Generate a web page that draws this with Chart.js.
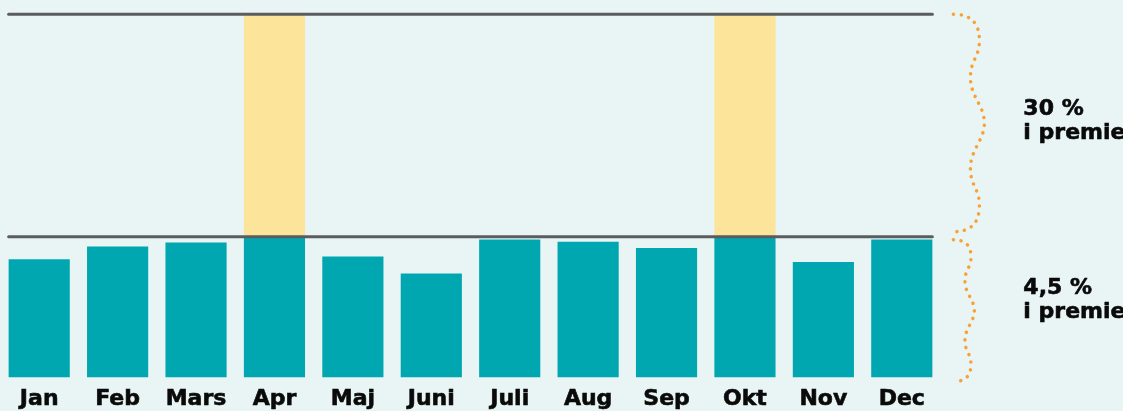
<!DOCTYPE html>
<html>
<head>
<meta charset="utf-8">
<script src="https://cdn.jsdelivr.net/npm/chart.js@4/dist/chart.umd.min.js"></script>
<style>
  html, body { margin: 0; padding: 0; background: #e9f5f5; }
  #wrap { width: 1123px; height: 411px; }
</style>
</head>
<body>
<div id="wrap"><canvas id="chart" width="1123" height="411"></canvas></div>
<script>
// months and monthly values (4,5 % line = 100)
var months = ['Jan', 'Feb', 'Mars', 'Apr', 'Maj', 'Juni', 'Juli', 'Aug', 'Sep', 'Okt', 'Nov', 'Dec'];
var values = [84, 93, 96, 100, 86, 74, 98, 96.5, 92, 100, 82, 98];
var highlightMonths = ['Apr', 'Okt'];
var baseLevel = 100;   // 4,5 % premie
var topLevel = 258;    // 30 % premie
var topLabel = ['30 %', 'i premie'];
var baseLabel = ['4,5 %', 'i premie'];

var highlight = months.map(function(m) {
    return highlightMonths.indexOf(m) >= 0 ? [baseLevel, topLevel] : null;
});

function brace(ctx, x0, y1, y2, w) {
    var h = y2 - y1;
    ctx.beginPath();
    ctx.moveTo(x0, y1);
    ctx.quadraticCurveTo(x0 + w * 0.84, y1, x0 + w * 0.84, y1 + h * 0.12);
    ctx.bezierCurveTo(x0 + w * 0.84, y1 + h * 0.2, x0 + w * 0.55, y1 + h * 0.21, x0 + w * 0.55, y1 + h * 0.29);
    ctx.bezierCurveTo(x0 + w * 0.55, y1 + h * 0.38, x0 + w, y1 + h * 0.42, x0 + w, y1 + h * 0.5);
    ctx.bezierCurveTo(x0 + w, y1 + h * 0.58, x0 + w * 0.55, y1 + h * 0.62, x0 + w * 0.55, y1 + h * 0.71);
    ctx.bezierCurveTo(x0 + w * 0.55, y1 + h * 0.79, x0 + w * 0.84, y1 + h * 0.8, x0 + w * 0.84, y1 + h * 0.88);
    ctx.quadraticCurveTo(x0 + w * 0.84, y2, x0, y2);
    ctx.stroke();
}

function boldText(ctx, s, x, y) {
    ctx.fillText(s, x, y);
    ctx.strokeText(s, x, y);
}

var levels = {
    id: 'levels',
    afterDatasetsDraw: function(chart) {
        var ctx = chart.ctx;
        var y = chart.scales.y;
        var meta = chart.getDatasetMeta(1);
        var first = meta.data[0], last = meta.data[meta.data.length - 1];
        var left = first.x - first.width / 2, right = last.x + last.width / 2;
        ctx.save();
        ctx.strokeStyle = '#5b5c5e';
        ctx.lineWidth = 3;
        ctx.lineCap = 'round';
        [topLevel, baseLevel].forEach(function(v) {
            var yy = y.getPixelForValue(v);
            ctx.beginPath();
            ctx.moveTo(left, yy);
            ctx.lineTo(right, yy);
            ctx.stroke();
        });

        // dotted braces
        var bx = right + 21;
        ctx.strokeStyle = '#f7a236';
        ctx.lineWidth = 3.5;
        ctx.setLineDash([0.1, 7.6]);
        var yTop = y.getPixelForValue(topLevel), yBase = y.getPixelForValue(baseLevel), yZero = y.getPixelForValue(0);
        brace(ctx, bx, yTop, yBase - 5, 31);
        brace(ctx, bx, yBase + 3, yZero + 4, 21);
        ctx.setLineDash([]);

        // labels
        ctx.fillStyle = '#0a0a0a';
        ctx.strokeStyle = '#0a0a0a';
        ctx.lineWidth = 0.6;
        ctx.lineJoin = 'round';
        ctx.font = 'bold 22px "DejaVu Sans"';
        ctx.textAlign = 'left';
        ctx.textBaseline = 'alphabetic';
        var tx = right + 91;
        var m1 = (yTop + yBase) / 2, m2 = (yBase + yZero) / 2;
        boldText(ctx, topLabel[0], tx, m1 - 10);
        boldText(ctx, topLabel[1], tx, m1 + 14);
        boldText(ctx, baseLabel[0], tx, m2 - 13);
        boldText(ctx, baseLabel[1], tx, m2 + 11);
        ctx.restore();
    }
};

var ctx = document.getElementById('chart').getContext('2d');
var chart = new Chart(ctx, {
    type: 'bar',
    data: {
        labels: months,
        datasets: [{
            label: 'Högre premie',
            data: highlight,
            backgroundColor: '#fde49b',
            grouped: false,
            barPercentage: 0.78,
            categoryPercentage: 1
        }, {
            label: 'Premie',
            data: values,
            backgroundColor: '#00a7b1',
            grouped: false,
            barPercentage: 0.78,
            categoryPercentage: 1
        }]
    },
    options: {
        responsive: false,
        animation: false,
        layout: { padding: { left: 0, right: 182, top: 10, bottom: -9 } },
        plugins: { legend: { display: false }, tooltip: { enabled: false } },
        scales: {
            x: {
                grid: { display: false, drawTicks: false },
                border: { display: false },
                ticks: {
                    color: '#0a0a0a',
                    padding: 8,
                    textStrokeColor: '#0a0a0a',
                    textStrokeWidth: 0.6,
                    font: { family: 'DejaVu Sans', size: 22, weight: 'bold' }
                }
            },
            y: {
                display: false,
                min: 0,
                max: 261
            }
        }
    },
    plugins: [levels]
});
</script>
</body>
</html>
